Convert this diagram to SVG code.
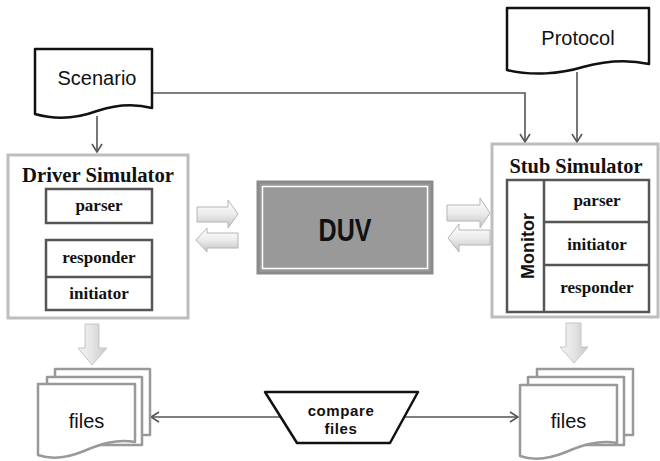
<svg xmlns="http://www.w3.org/2000/svg" width="660" height="461" viewBox="0 0 660 461">
<defs>
<style>
.doc{fill:#fff;stroke:#111;stroke-width:2.5;stroke-linejoin:round}
.sheet{fill:#fff;stroke:#999;stroke-width:2.5;stroke-linejoin:round}
.sim{fill:#fff;stroke:#bdbdbd;stroke-width:3}
.blk{fill:#fff;stroke:#555;stroke-width:2.5}
.conn{fill:none;stroke:#555;stroke-width:1.6}
.sans{font-family:"Liberation Sans",Arial,sans-serif;fill:#111;text-anchor:middle}
.serif{font-family:"Liberation Serif","Times New Roman",serif;font-weight:bold;fill:#111;text-anchor:middle}
.lbl{font-size:17px}
.harrow{fill:url(#gv);stroke:#b5b5b5;stroke-width:1}
.varrow{fill:url(#gh);stroke:#c5c5c5;stroke-width:1}
</style>
<linearGradient id="gv" x1="0" y1="0" x2="0" y2="1">
<stop offset="0" stop-color="#ffffff"/><stop offset="0.5" stop-color="#ececec"/><stop offset="1" stop-color="#c4c4c4"/>
</linearGradient>
<linearGradient id="gh" x1="0" y1="0" x2="1" y2="0">
<stop offset="0" stop-color="#f4f4f4"/><stop offset="0.5" stop-color="#e4e4e4"/><stop offset="1" stop-color="#c8c8c8"/>
</linearGradient>
<marker id="ah" markerWidth="12" markerHeight="12" refX="9" refY="6" orient="auto" markerUnits="userSpaceOnUse">
<path d="M1,1 L9,6 L1,11" fill="none" stroke="#555" stroke-width="1.6"/>
</marker>
</defs>
<rect width="660" height="461" fill="#fff"/>

<g id="connectors">
<path class="conn" d="M97,116 V152" marker-end="url(#ah)"/>
<path class="conn" d="M152,93 H525 V142" marker-end="url(#ah)"/>
<path class="conn" d="M577,72 V142" marker-end="url(#ah)"/>
<path class="conn" d="M281,417 H151" marker-end="url(#ah)"/>
<path class="conn" d="M404,417 H518" marker-end="url(#ah)"/>
</g>

<g id="scenario">
<path class="doc" d="M35,49 H152 V108 C132,103 115,105 97,111 C78,118 56,120 35,114 Z"/>
<text class="sans" x="97" y="85" font-size="20">Scenario</text>
</g>

<g id="protocol">
<path class="doc" d="M507,8 H649 V64 C625,59 605,61 583,67 C560,74 532,76 507,70 Z"/>
<text class="sans" x="578" y="45" font-size="20">Protocol</text>
</g>

<g id="driver-simulator">
<rect class="sim" x="8" y="155" width="180" height="163"/>
<text class="serif" x="98" y="182" font-size="20.5" textLength="152" lengthAdjust="spacingAndGlyphs">Driver Simulator</text>
<rect class="blk" x="46" y="189" width="106" height="34"/>
<text class="serif lbl" x="99" y="211">parser</text>
<rect class="blk" x="46" y="240" width="106" height="70"/>
<line class="blk" x1="46" y1="277" x2="152" y2="277"/>
<text class="serif lbl" x="99" y="263">responder</text>
<text class="serif lbl" x="99" y="299">initiator</text>
</g>

<g id="stub-simulator">
<rect class="sim" x="492" y="144" width="166" height="173"/>
<text class="serif" x="576" y="173" font-size="20.5" textLength="133" lengthAdjust="spacingAndGlyphs">Stub Simulator</text>
<rect class="blk" x="507" y="180" width="142" height="132"/>
<line class="blk" x1="544" y1="180" x2="544" y2="312"/>
<line class="blk" x1="544" y1="222" x2="649" y2="222"/>
<line class="blk" x1="544" y1="265" x2="649" y2="265"/>
<text class="sans" font-size="18" font-weight="bold" transform="translate(533.5,246) rotate(-90)">Monitor</text>
<text class="serif lbl" x="597" y="206">parser</text>
<text class="serif lbl" x="597" y="250">initiator</text>
<text class="serif lbl" x="597" y="293">responder</text>
</g>

<g id="duv">
<rect x="258" y="182" width="174" height="91" fill="#999" stroke="#8a8a8a" stroke-width="3"/>
<rect x="262.5" y="186.5" width="165" height="82" fill="none" stroke="#fff" stroke-width="1.5"/>
<text class="sans" x="345" y="241" font-size="32" font-weight="bold" textLength="53" lengthAdjust="spacingAndGlyphs">DUV</text>
</g>

<g id="driver-duv-arrows">
<path class="harrow" d="M197,207 H228 V200 L238,214 L228,228 V222 H197 Z"/>
<path class="harrow" d="M238,233 H207 V228 L196,240 L207,252 V248 H238 Z"/>
</g>
<g id="duv-stub-arrows">
<path class="harrow" d="M447,205 H480 V198 L490,213 L480,228 V221 H447 Z"/>
<path class="harrow" d="M490,230 H459 V224 L448,238 L459,252 V245 H490 Z"/>
</g>
<g id="down-arrows">
<path class="varrow" d="M85,324 H99 V348 H107 L92,365 L78,348 H85 Z"/>
<path class="varrow" d="M566,323 H581 V347 H588 L574,363 L560,347 H566 Z"/>
</g>

<g id="files-left">
<rect class="sheet" x="55" y="369" width="95" height="66"/>
<rect class="sheet" x="47" y="377" width="95" height="68"/>
<path class="sheet" d="M38,384 H135 V442 C116,439 100,444 84,451 C67,458 52,460 38,455 Z"/>
<text class="sans" x="86.5" y="428" font-size="20">files</text>
</g>

<g id="files-right">
<rect class="sheet" x="537" y="369" width="96" height="66"/>
<rect class="sheet" x="528" y="377" width="96" height="68"/>
<path class="sheet" d="M520,385 H617 V443 C598,440 582,445 566,452 C549,459 534,461 520,456 Z"/>
<text class="sans" x="568.5" y="428" font-size="20">files</text>
</g>

<g id="compare-files">
<path d="M265,392 H418 L390,443 H297 Z" fill="#fff" stroke="#111" stroke-width="2.5" stroke-linejoin="round"/>
<text class="sans" x="341" y="416" font-size="15" font-weight="bold" letter-spacing="0.6">compare</text>
<text class="sans" x="341" y="434" font-size="15" font-weight="bold" letter-spacing="0.6">files</text>
</g>
</svg>
